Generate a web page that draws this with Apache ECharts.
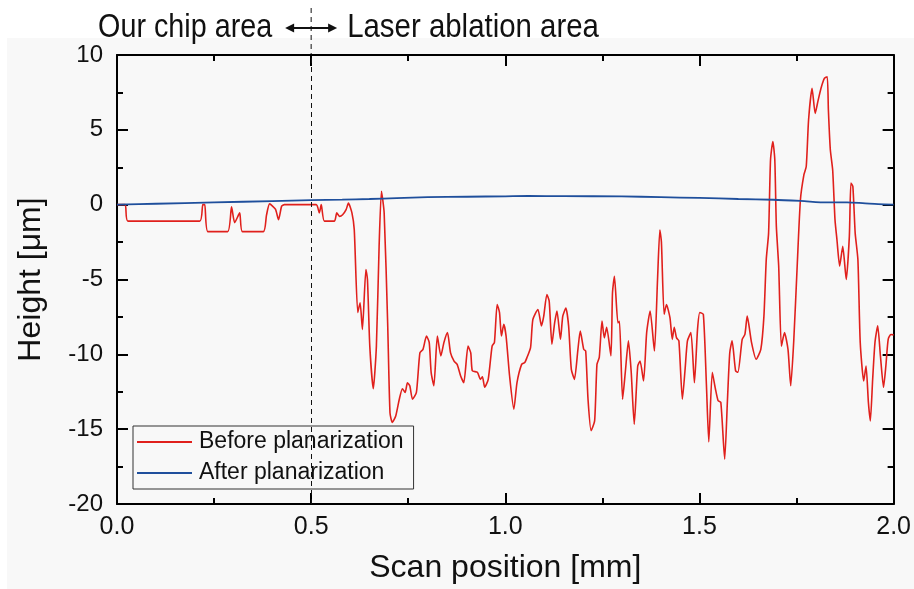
<!DOCTYPE html>
<html><head><meta charset="utf-8">
<script src="https://cdn.jsdelivr.net/npm/echarts@6/dist/echarts.min.js"></script>
<style>html,body{margin:0;padding:0;background:#fff}#c{width:914px;height:589px}</style>
</head><body><div id="c"></div>
<script>
// Scan position [mm] and height [µm]
const redX = [0.000,0.021,0.028,0.213,0.221,0.226,0.234,0.285,0.295,0.303,0.316,0.323,0.377,0.385,0.393,0.408,0.416,0.424,0.431,0.513,0.521,0.526,0.534,
0.560,0.566,0.573,0.581,0.590,0.596,0.605,0.611,0.620,0.626,0.632,0.641,0.645,0.651,0.660,0.668,0.675,0.681,0.688,0.697,0.703,0.709,0.718,0.727,0.735,0.742,0.748,0.754,0.761,0.771,0.780,0.788,0.797,0.804,0.809,0.816,0.825,0.834,0.842,0.851,0.859,0.868,0.876,0.885,0.893,0.904,0.911,0.915,0.928,0.936,0.941,0.947,0.956,0.966,0.972,0.979,0.985,0.990,0.996,
1.002,1.011,1.022,1.030,1.042,1.050,1.056,1.065,1.071,1.084,1.093,1.099,1.107,1.113,1.120,1.127,1.133,1.142,1.148,1.156,1.163,1.170,1.178,1.187,1.193,1.202,1.207,1.213,1.221,1.230,1.236,1.242,1.249,1.255,1.261,1.272,1.276,1.281,1.290,1.294,1.302,1.309,1.317,1.324,1.332,1.341,1.347,1.356,1.364,1.373,1.384,1.392,1.398,1.402,1.409,1.415,1.424,1.430,1.435,1.441,1.447,1.456,1.463,1.469,1.478,1.487,1.495,
1.501,1.510,1.518,1.524,1.533,1.541,1.548,1.555,1.565,1.572,1.578,1.584,1.593,1.599,1.610,1.617,1.623,1.634,1.646,1.658,1.666,1.672,1.678,1.683,1.689,1.694,1.698,1.704,1.711,1.719,1.728,1.735,1.743,1.752,1.760,1.769,1.775,1.781,1.790,1.798,1.805,1.813,1.822,1.829,1.832,1.837,1.843,1.849,1.854,1.861,1.869,1.878,1.886,1.890,1.895,1.901,1.908,1.914,1.923,1.929,1.935,1.940,1.946,1.952,1.959,1.966,1.974,1.980,1.986,1.993,2.000];
const redY = [0,0,-1.1,-1.1,0,0,-1.8,-1.8,-0.15,-1.2,-0.55,-1.8,-1.8,-0.7,0.05,-0.3,-1.0,-0.1,0,0,-0.55,0,-1.1,
-1.1,-0.55,-0.78,-0.67,-0.33,0.1,-0.55,-1.67,-7.2,-6.55,-8.33,-4.33,-5,-9.45,-12.3,-9.45,-2.78,0.9,-0.55,-7.9,-13.9,-14.55,-14.1,-13,-12.3,-12.55,-11.9,-12.1,-13,-12.55,-9.9,-9.67,-8.78,-9.2,-11.2,-12.1,-8.78,-10.1,-9.2,-8.55,-9.9,-10.45,-10.67,-11.45,-11.9,-9.45,-9.9,-11.1,-11.2,-11.67,-11.5,-12.2,-11.67,-9.45,-9.2,-6.67,-7.2,-8.78,-8,
-8.78,-11.45,-13.67,-11.9,-10.67,-10.55,-10.2,-9.55,-7.67,-7,-8.1,-7.45,-6,-6.45,-9.33,-7.9,-7.1,-9,-7.45,-6.9,-8.1,-11,-11.67,-9.67,-8.45,-9.67,-9.78,-13,-15.1,-14.45,-10.67,-10.2,-7.78,-8.9,-8.2,-10.1,-5.9,-4.78,-7.9,-7.8,-13,-11.2,-9.1,-11.1,-14.67,-10.78,-10.45,-11.78,-8.55,-7.1,-9.78,-5,-1.7,-2.5,-7.33,-6.67,-7.55,-9,-8.2,-8.9,-9.1,-13,-11,-9.1,-8.55,-11.9,-8.33,
-7.2,-7.33,-12.1,-15.85,-11.2,-12.3,-13.1,-13.2,-17,-13.1,-9.9,-9.1,-11.1,-11.2,-9,-8.67,-7.45,-9.2,-10.33,-9.67,-7.45,-3.67,-1.9,3,4.22,3,-1.45,-4.1,-9.45,-8.55,-9.67,-12.1,-9,-3.9,0.33,2,2.55,5.67,7.78,6.1,6.9,7.78,8.45,8.55,6.33,3.67,2.33,-1,-2.33,-4.1,-2.78,-5,-2.1,1.45,1.22,-1.9,-3.67,-9.2,-11.78,-10.78,-13.2,-14.45,-11.67,-9.2,-8.1,-10.1,-12.2,-10.78,-9,-8.67,-8.7];
const blueX = [0,0.1,0.25,0.4,0.5,0.58,0.65,0.72,0.8,0.9,1.0,1.06,1.15,1.3,1.4,1.5,1.6,1.69,1.76,1.83,1.88,1.92,1.96,2.0];
const blueY = [0,0.06,0.15,0.24,0.3,0.34,0.38,0.44,0.5,0.53,0.56,0.58,0.57,0.55,0.5,0.45,0.38,0.33,0.25,0.15,0.15,0.1,0.03,0];
const seriesNames = ['Before planarization','After planarization'];
const xAxisName = 'Scan position [mm]';
const yAxisName = 'Height [\u03bcm]';
const leftLabel = 'Our chip area';
const rightLabel = 'Laser ablation area';
const dividerX = 0.5;

const FONT = "'Liberation Sans', Arial, sans-serif";
const chart = echarts.init(document.getElementById('c'));
const axisCommon = {
  axisLine: {show: true, onZero: false, lineStyle: {color: '#000', width: 2}},
  axisTick: {show: true, inside: true, length: 11, lineStyle: {color: '#000', width: 2}},
  minorTick: {show: true, splitNumber: 2, length: 6, lineStyle: {color: '#000', width: 2}},
  splitLine: {show: false}
};
chart.setOption({
  backgroundColor: '#ffffff',
  animation: false,
  grid: {left: 117, right: 18, top: 55, bottom: 84},
  legend: {
    orient: 'vertical', left: 133, top: 426, data: seriesNames,
    backgroundColor: '#f8f8f8', borderColor: '#333', borderWidth: 1,
    padding: [3, 10, 3, 4], itemGap: 5, itemWidth: 55, itemHeight: 2, icon: 'rect',
    textStyle: {fontFamily: FONT, fontSize: 23, lineHeight: 26, color: '#111', padding: [0,0,0,2]}
  },
  xAxis: [
    Object.assign({type: 'value', position: 'bottom', min: 0, max: 2, interval: 0.5,
      name: xAxisName, nameLocation: 'middle', nameGap: 48,
      nameTextStyle: {fontFamily: FONT, fontSize: 32, color: '#111'},
      axisLabel: {fontFamily: FONT, fontSize: 25, color: '#111', margin: 11, formatter: v => v.toFixed(1)}}, axisCommon),
    Object.assign({type: 'value', position: 'top', min: 0, max: 2, interval: 0.5, axisLabel: {show: false}}, axisCommon)
  ],
  yAxis: [
    Object.assign({type: 'value', position: 'left', min: -20, max: 10, interval: 5,
      name: yAxisName, nameLocation: 'middle', nameGap: 70,
      nameTextStyle: {fontFamily: FONT, fontSize: 32, color: '#111'},
      axisLabel: {fontFamily: FONT, fontSize: 24, color: '#111', margin: 14}}, axisCommon),
    Object.assign({type: 'value', position: 'right', min: -20, max: 10, interval: 5, axisLabel: {show: false}}, axisCommon)
  ],
  series: [
    {name: seriesNames[0], type: 'line', symbol: 'none', smooth: 0.2,
     data: redX.map((x, i) => [x, redY[i]]),
     lineStyle: {color: '#e0201c', width: 1.6}, itemStyle: {color: '#e0201c'},
     markLine: {silent: true, symbol: 'none', label: {show: false},
       lineStyle: {color: '#111', type: [5, 4], width: 1}, data: [{xAxis: dividerX}]}},
    {name: seriesNames[1], type: 'line', symbol: 'none', smooth: 0.3,
     data: blueX.map((x, i) => [x, blueY[i]]),
     lineStyle: {color: '#1f4f9c', width: 1.8}, itemStyle: {color: '#1f4f9c'}}
  ]
});
const px = chart.convertToPixel({xAxisIndex: 0}, dividerX);
const ay = 28;
chart.setOption({
  graphic: [
    {type: 'rect', shape: {x: 7, y: 38, width: 914, height: 589}, style: {fill: '#f8f8f8'}, z: -10, silent: true},
    {type: 'line', shape: {x1: px, y1: 8, x2: px, y2: 55}, style: {stroke: '#111', lineWidth: 1, lineDash: [5, 4]}},
    {type: 'text', x: px - 39, y: ay, scaleX: 0.845, style: {text: leftLabel, fontFamily: FONT, fontSize: 34, fill: '#111', align: 'right', verticalAlign: 'middle'}},
    {type: 'text', x: px + 36, y: ay, scaleX: 0.865, style: {text: rightLabel, fontFamily: FONT, fontSize: 34, fill: '#111', align: 'left', verticalAlign: 'middle'}},
    {type: 'line', shape: {x1: px - 22, y1: ay, x2: px + 22, y2: ay}, style: {stroke: '#111', lineWidth: 2}},
    {type: 'polygon', shape: {points: [[px - 26, ay], [px - 17, ay - 4.5], [px - 17, ay + 4.5]]}, style: {fill: '#111'}},
    {type: 'polygon', shape: {points: [[px + 26, ay], [px + 17, ay - 4.5], [px + 17, ay + 4.5]]}, style: {fill: '#111'}}
  ]
});
</script></body></html>
